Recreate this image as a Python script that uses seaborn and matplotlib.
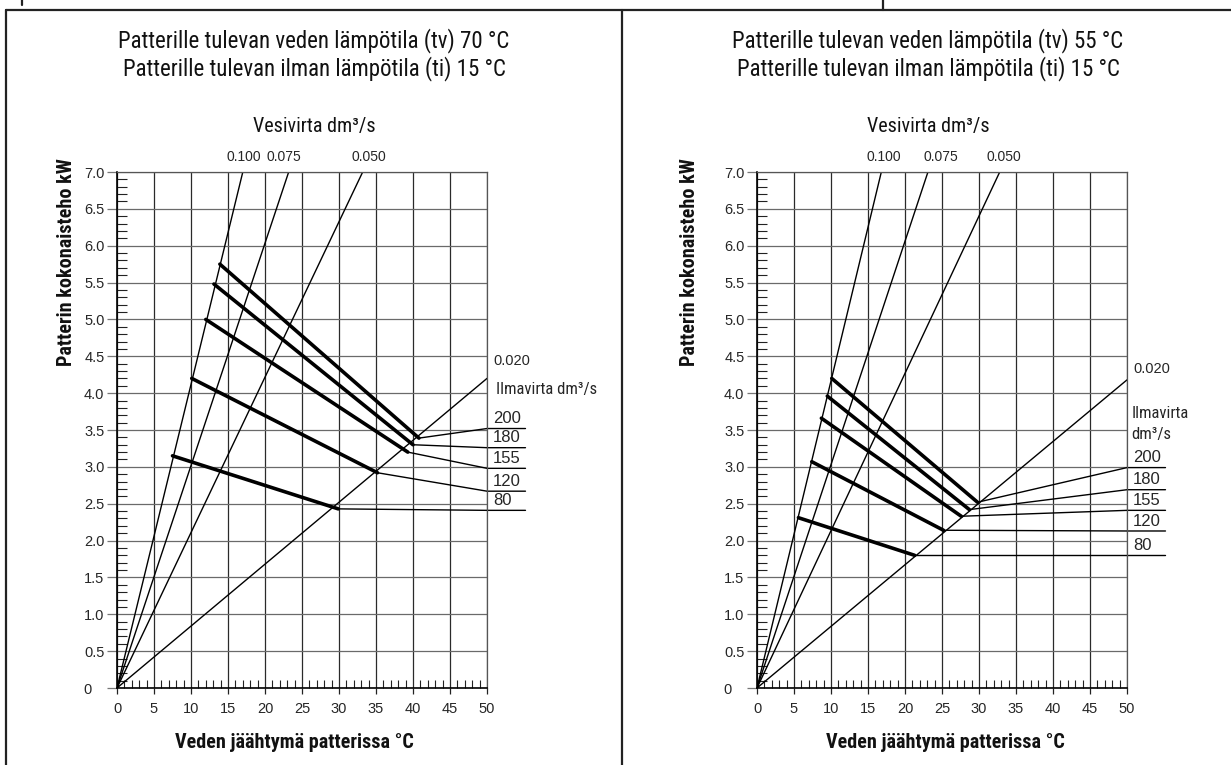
import numpy as np
import pandas as pd
import matplotlib
matplotlib.use("Agg")
import matplotlib.pyplot as plt
from matplotlib import font_manager as fm
from matplotlib.lines import Line2D
from matplotlib.ticker import MultipleLocator, FixedLocator
import seaborn as sns

# ---------------- data ----------------
water_flows = ["0.100", "0.075", "0.050", "0.020"]
air_flows = ["200", "180", "155", "120", "80"]
x_ticks = [0, 5, 10, 15, 20, 25, 30, 35, 40, 45, 50]
y_ticks = [0, 0.5, 1.0, 1.5, 2.0, 2.5, 3.0, 3.5, 4.0, 4.5, 5.0, 5.5, 6.0, 6.5, 7.0]

# left panel: tv 70 C, ti 15 C
left_water_end_x = [17.0, 23.2, 33.2, 50.0]
left_water_end_y = [7.0, 7.0, 7.0, 4.2]
left_air_start_x = [13.9, 13.1, 12.0, 10.1, 7.5]
left_air_start_y = [5.75, 5.48, 5.00, 4.20, 3.15]
left_air_end_x = [40.8, 40.0, 39.3, 35.2, 29.9]
left_air_end_y = [3.39, 3.30, 3.20, 2.92, 2.43]
left_label_y = [3.52, 3.26, 2.98, 2.67, 2.41]
left_water_label_x = [17.1, 22.6, 34.1]

# right panel: tv 55 C, ti 15 C
right_water_end_x = [16.8, 23.1, 32.8, 50.0]
right_water_end_y = [7.0, 7.0, 7.0, 4.18]
right_air_start_x = [10.1, 9.5, 8.7, 7.4, 5.6]
right_air_start_y = [4.20, 3.96, 3.66, 3.07, 2.31]
right_air_end_x = [29.8, 28.7, 27.6, 25.2, 21.3]
right_air_end_y = [2.52, 2.42, 2.33, 2.14, 1.80]
right_label_y = [2.99, 2.69, 2.41, 2.13, 1.80]
right_water_label_x = [17.1, 24.8, 33.3]

titles = [["Patterille tulevan veden lämpötila (tv) 70 °C",
           "Patterille tulevan ilman lämpötila (ti) 15 °C"],
          ["Patterille tulevan veden lämpötila (tv) 55 °C",
           "Patterille tulevan ilman lämpötila (ti) 15 °C"]]

# ---------------- style ----------------
sns.set_style("white")
names = {f.name for f in fm.fontManager.ttflist}
COND = next((n for n in ["Liberation Sans Narrow", "Roboto Condensed", "Open Sans Condensed",
                         "Liberation Sans"] if n in names), "DejaVu Sans")
NUM = "Liberation Sans" if "Liberation Sans" in names else "DejaVu Sans"
plt.rcParams["font.family"] = [NUM, "DejaVu Sans"]

W, H = 1231, 765
fig = plt.figure(figsize=(W / 100, H / 100), dpi=100)
fig.patch.set_facecolor("white")


def fx(px):
    return px / W


def fy(py):
    return 1 - py / H


def draw_panel(ax_left_px, panel_cx, water_end_x, water_end_y, air_sx, air_sy, air_ex, air_ey,
               label_y, water_label_x, title_lines, zero_lbl_y, ilma_two_lines, xlabel_cx,
               ylabel_x):
    ax = fig.add_axes([fx(ax_left_px), fy(688), 370 / W, 516 / H])
    # thin water-flow lines through the origin
    thin = pd.DataFrame({
        "x": [v for ex in water_end_x for v in (0.0, ex)],
        "y": [v for ey in water_end_y for v in (0.0, ey)],
        "seg": [f for f in water_flows for _ in range(2)],
    })
    sns.lineplot(data=thin, x="x", y="y", units="seg", estimator=None, sort=False,
                 color="black", linewidth=1.0, ax=ax, legend=False)
    thick = pd.DataFrame({
        "x": [v for a, b in zip(air_sx, air_ex) for v in (a, b)],
        "y": [v for a, b in zip(air_sy, air_ey) for v in (a, b)],
        "seg": [f for f in air_flows for _ in range(2)],
    })
    sns.lineplot(data=thick, x="x", y="y", units="seg", estimator=None, sort=False,
                 color="black", linewidth=2.6, ax=ax, legend=False)
    # connectors and label underlines
    for lab, ex, ey, ly in zip(air_flows, air_ex, air_ey, label_y):
        ax.plot([ex, 50.0, 55.2], [ey, ly, ly], color="black", lw=1.0, clip_on=False,
                solid_joinstyle="miter")
        ax.text(50.8, ly + 0.03, lab, ha="left", va="bottom", fontsize=12, family=NUM,
                clip_on=False)
    # labels
    for lab, x in zip(water_flows[:3], water_label_x):
        ax.text(x, 7.2, lab, ha="center", va="center", fontsize=10, family=NUM, clip_on=False)
    ax.text(50.8, zero_lbl_y, water_flows[3], ha="left", va="center", fontsize=10.5,
            family=NUM, clip_on=False)
    if ilma_two_lines:
        ax.text(50.6, 3.72, "Ilmavirta", ha="left", va="center", fontsize=12, family=COND,
                clip_on=False)
        ax.text(50.6, 3.44, "dm³/s", ha="left", va="center", fontsize=12, family=COND,
                clip_on=False)
    else:
        ax.text(51.2, 4.05, "Ilmavirta dm³/s", ha="left", va="center", fontsize=12,
                family=COND, clip_on=False)

    ax.set_xlim(0, 50)
    ax.set_ylim(0, 7.0)
    ax.set_xlabel("")
    ax.set_ylabel("")
    ax.xaxis.set_major_locator(FixedLocator(x_ticks))
    ax.yaxis.set_major_locator(FixedLocator(y_ticks))
    ax.set_xticklabels([str(t) for t in x_ticks], fontsize=10.5)
    ax.set_yticklabels(["0   " if t == 0 else f"{t:.1f}" for t in y_ticks], fontsize=10.5)
    ax.xaxis.set_minor_locator(MultipleLocator(1))
    ax.yaxis.set_minor_locator(MultipleLocator(0.1))
    ax.tick_params(axis="x", which="major", direction="out", length=4, width=0.9,
                   color="#222", pad=6, bottom=True)
    ax.tick_params(axis="y", which="major", direction="out", length=7, width=0.9,
                   color="#777", pad=2, left=True)
    ax.tick_params(axis="x", which="minor", direction="in", length=6, width=0.8,
                   color="#222", bottom=True)
    ax.tick_params(axis="y", which="minor", direction="in", length=7.5, width=0.8,
                   color="#222", left=True)
    ax.set_axisbelow(True)
    ax.grid(True, which="major", axis="x", color="#2a2a2a", lw=0.9)
    ax.grid(True, which="major", axis="y", color="#6a6a6a", lw=0.9)
    for s in ["left", "bottom"]:
        ax.spines[s].set_color("black")
        ax.spines[s].set_linewidth(1.2)
    for s in ["top", "right"]:
        ax.spines[s].set_color("#555")
        ax.spines[s].set_linewidth(0.9)

    # titles and axis labels
    fig.text(fx(panel_cx), fy(47), title_lines[0], ha="center", va="baseline",
             fontsize=16.5, family=COND, color="#111")
    fig.text(fx(panel_cx), fy(75), title_lines[1], ha="center", va="baseline",
             fontsize=16.5, family=COND, color="#111")
    fig.text(fx(panel_cx), fy(132), "Vesivirta dm³/s", ha="center", va="baseline",
             fontsize=14.5, family=COND, color="#111")
    fig.text(fx(ylabel_x), fy(158), "Patterin kokonaisteho kW", rotation=90,
             ha="center", va="top", fontsize=14.5, family=COND, fontweight="bold",
             color="#111")
    fig.text(fx(xlabel_cx), fy(742), "Veden jäähtymä patterissa °C", ha="center",
             va="center", fontsize=14.5, family=COND, fontweight="bold", color="#111")
    return ax


draw_panel(117, 314, left_water_end_x, left_water_end_y, left_air_start_x, left_air_start_y,
           left_air_end_x, left_air_end_y, left_label_y, left_water_label_x, titles[0],
           4.43, False, 294, 67)
draw_panel(757, 928, right_water_end_x, right_water_end_y, right_air_start_x, right_air_start_y,
           right_air_end_x, right_air_end_y, right_label_y, right_water_label_x, titles[1],
           4.33, True, 945, 690)

# page frame lines
frame = dict(color="#222", lw=1.6, transform=fig.transFigure)
fig.add_artist(Line2D([fx(6), fx(W)], [fy(10), fy(10)], **frame))
fig.add_artist(Line2D([fx(6), fx(6)], [fy(10), fy(H)], **frame))
fig.add_artist(Line2D([fx(622), fx(622)], [fy(10), fy(H)], **frame))
fig.add_artist(Line2D([fx(883), fx(883)], [fy(0), fy(10)], **frame))
fig.add_artist(Line2D([fx(22), fx(22)], [fy(0), fy(5)], **frame))

fig.savefig("out.png", dpi=100, facecolor="white")
